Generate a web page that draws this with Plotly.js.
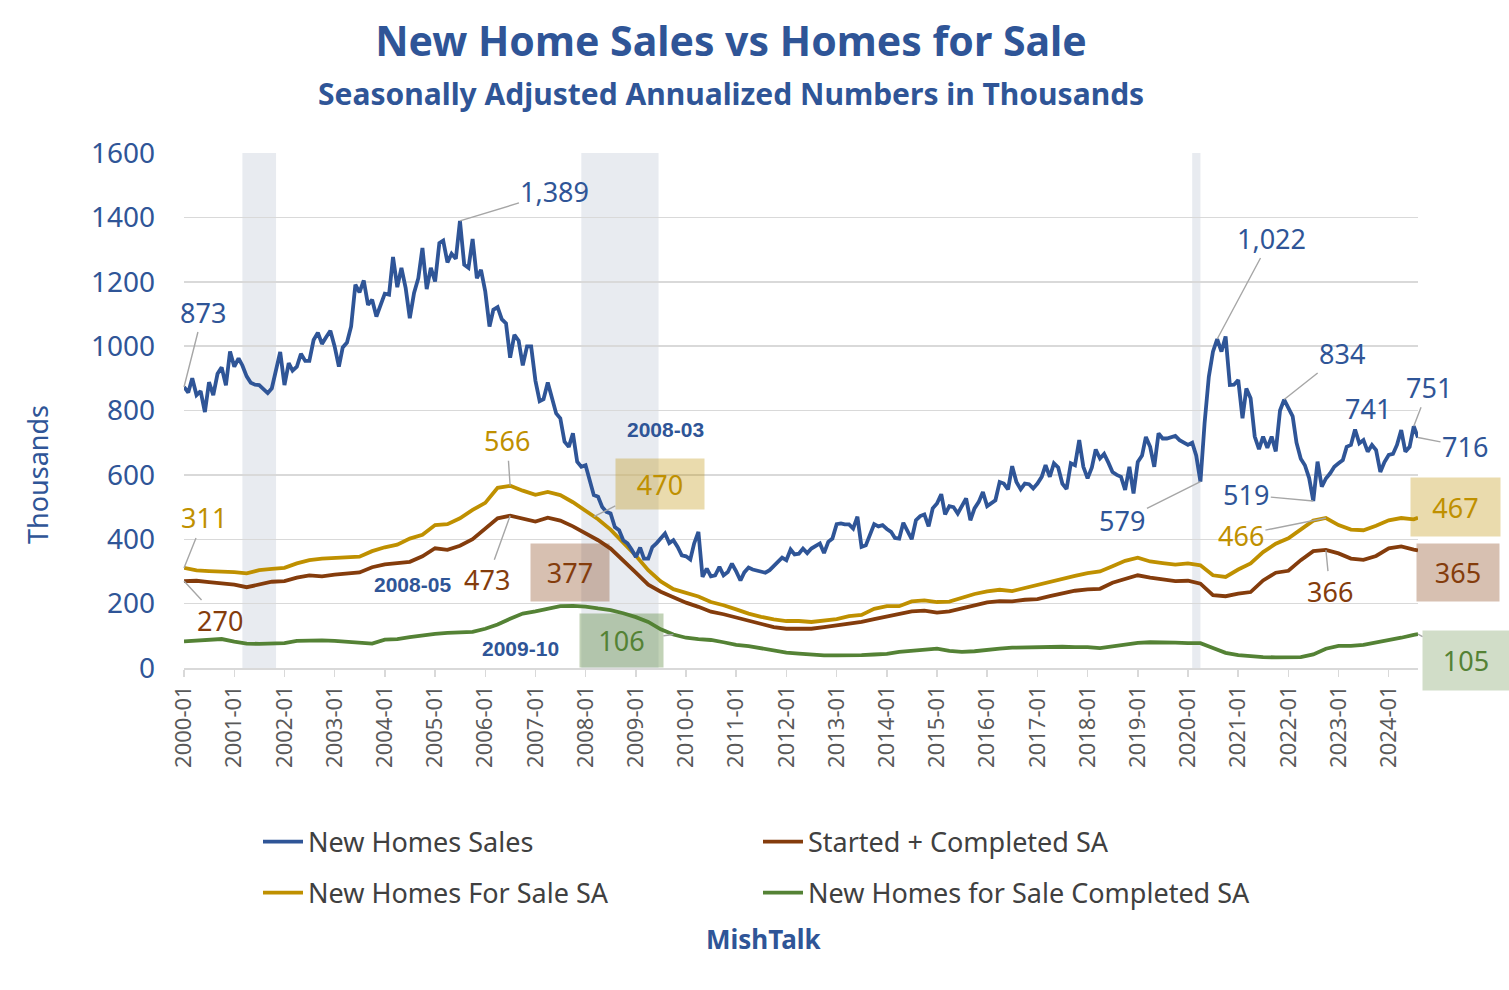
<!DOCTYPE html>
<html>
<head>
<meta charset="utf-8">
<script src="https://cdn.plot.ly/plotly-3.0.1.min.js"></script>
<style>html,body{margin:0;padding:0;background:#fff;}#chart{width:1509px;height:990px;}</style>
</head>
<body>
<div id="chart"></div>
<script>
// ---------- DATA ----------
const startYear = 2000;
const monthCount = 296; // 2000-01 .. 2024-08

// New Home Sales, monthly SAAR (thousands), 2000-01 .. 2024-08
const newHomeSales = [
  873, 856, 900, 848, 860, 795, 888, 848, 914, 934, 878, 983,
  936, 962, 940, 906, 886, 880, 879, 866, 854, 869, 925, 982,
  879, 947, 924, 936, 976, 954, 954, 1019, 1042, 1007, 1028, 1048,
  999, 936, 996, 1011, 1061, 1191, 1167, 1204, 1128, 1144, 1092, 1128,
  1163, 1160, 1277, 1183, 1243, 1180, 1087, 1165, 1211, 1305, 1177, 1243,
  1201, 1320, 1328, 1260, 1287, 1271, 1389, 1253, 1243, 1333, 1211, 1237,
  1170, 1061, 1113, 1121, 1084, 1071, 964, 1035, 1017, 940, 999, 999,
  893, 829, 835, 887, 843, 791, 776, 703, 687, 729, 641, 625,
  630, 584, 537, 532, 500, 485, 480, 438, 428, 397, 387, 368,
  345, 374, 340, 340, 376, 388, 405, 418, 388, 397, 376, 350,
  347, 337, 387, 423, 283, 309, 285, 288, 314, 288, 298, 324,
  300, 272, 297, 312, 306, 302, 297, 296, 304, 316, 329, 343,
  335, 368, 353, 355, 371, 357, 371, 378, 387, 357, 392, 402,
  447, 449, 446, 446, 433, 470, 376, 381, 412, 447, 440, 444,
  432, 423, 404, 402, 451, 428, 400, 459, 472, 477, 440, 496,
  511, 540, 477, 503, 500, 480, 506, 527, 459, 496, 516, 547,
  503, 512, 521, 578, 573, 555, 627, 578, 555, 573, 571, 558,
  573, 594, 630, 594, 636, 623, 573, 556, 636, 630, 708, 625,
  589, 623, 679, 651, 665, 638, 609, 600, 594, 553, 625, 542,
  640, 660, 718, 687, 625, 729, 713, 713, 718, 721, 708, 700,
  693, 700, 660, 579, 760, 905, 983, 1022, 983, 1030, 879, 880,
  895, 776, 868, 838, 719, 680, 719, 684, 719, 673, 800, 834,
  808, 782, 700, 650, 630, 590, 519, 641, 563, 589, 605, 625,
  636, 646, 687, 693, 741, 698, 708, 672, 693, 677, 609, 640,
  662, 665, 693, 739, 672, 687, 751, 716
];

// Smooth series read quarterly (Jan/Apr/Jul/Oct) plus the last month 2024-08
const forSaleSA = [
  311, 303, 301, 300,  298, 294, 304, 308,  311, 325, 335, 340,  343, 343, 346, 363,
  375, 383, 402, 414,  444, 447, 465, 491,  513, 560, 566, 551,  538, 547, 537, 515,
  487, 462, 430, 390,  349, 304, 269, 245,  234, 222, 205, 195,  182, 169, 159, 151,
  146, 146, 143, 148,  152, 161, 165, 184,  192, 192, 207, 210,  205, 206, 218, 230,
  238, 243, 239, 249,  259, 269, 279, 286,  295, 300, 316, 333,  343, 331, 326, 321,
  325, 319, 288, 283,  306, 325, 360, 386,  403, 430, 458, 466,  444, 430, 428, 442,
  459, 466, 462, 467
];
const startedCompletedSA = [
  270, 271, 267, 264,  259, 251, 260, 268,  270, 281, 288, 285,  290, 293, 297, 313,
  322, 326, 330, 347,  372, 367, 380, 400,  432, 465, 473, 465,  455, 467, 458, 440,
  419, 397, 371, 335,  296, 259, 237, 220,  203, 190, 175, 167,  157, 147, 135, 127,
  122, 122, 122, 127,  132, 137, 143, 152,  160, 168, 176, 178,  172, 176, 186, 195,
  204, 208, 207, 212,  214, 223, 232, 240,  244, 246, 265, 277,  288, 281, 276, 270,
  271, 262, 226, 223,  231, 236, 272, 296,  302, 335, 363, 367,  356, 340, 336, 348,
  372, 378, 368, 365
];
const completedForSaleSA = [
  83, 86, 88, 90,  82, 76, 75, 76,  77, 84, 86, 86,  84, 82, 80, 76,
  88, 90, 96, 102,  106, 109, 111, 112,  122, 135, 153, 169,  176, 185, 192, 193,
  191, 185, 180, 170,  158, 143, 120, 104,  94, 90, 87, 80,  72, 68, 61, 55,
  48, 45, 41, 39,  39, 39, 40, 42,  44, 50, 54, 58,  60, 53, 50, 52,
  57, 60, 63, 64,  65, 66, 66, 65,  65, 62, 68, 74,  78, 80, 80, 79,
  77, 77, 62, 47,  40, 36, 34, 33,  33, 34, 42, 60,  69, 69, 72, 79,
  88, 94, 103, 105
];

const seriesNames = ["New Homes Sales", "Started + Completed SA", "New Homes For Sale SA", "New Homes for Sale Completed SA"];
const recessions = [["2001-03-01", "2001-11-01"], ["2007-12-01", "2009-06-15"], ["2020-02-01", "2020-04-01"]];
const tickYears = [];
for (let y = 2000; y <= 2024; y++) tickYears.push(y + "-01-01");

// ---------- DATES ----------
function monthStr(i) {
  const y = startYear + Math.floor(i / 12);
  const m = (i % 12) + 1;
  return y + "-" + (m < 10 ? "0" + m : m) + "-01";
}
const months = [];
for (let i = 0; i < monthCount; i++) months.push(monthStr(i));
const qIdx = [];
for (let i = 0; i < monthCount - 1; i += 3) qIdx.push(i);
qIdx.push(monthCount - 1);
const qDates = qIdx.map(monthStr);

// ---------- STYLE ----------
const BLUE = "#2F5597", GOLD = "#BF9000", BROWN = "#843C0C", GREEN = "#548235";
const FONT = "Noto Sans, Liberation Sans, sans-serif";
const L = 184, R = 1418, T = 153, B = 668;
const px = (X) => (X - L) / (R - L);
const py = (Y) => (B - Y) / (B - T);

const traces = [
  {x: qDates, y: forSaleSA, name: seriesNames[2], type: "scatter", mode: "lines",
   line: {color: GOLD, width: 3.8}, legend: "legend2", legendrank: 1},
  {x: qDates, y: startedCompletedSA, name: seriesNames[1], type: "scatter", mode: "lines",
   line: {color: BROWN, width: 3.8}, legend: "legend", legendrank: 2},
  {x: qDates, y: completedForSaleSA, name: seriesNames[3], type: "scatter", mode: "lines",
   line: {color: GREEN, width: 3.8}, legend: "legend2", legendrank: 2},
  {x: months, y: newHomeSales, name: seriesNames[0], type: "scatter", mode: "lines",
   line: {color: BLUE, width: 3.8}, legend: "legend", legendrank: 1}
];

// ---------- ANNOTATIONS ----------
const lbl = (text, color, idx, val, ax, ay, box) => {
  const a = {
    x: months[idx], y: val, xref: "x", yref: "y", text: text,
    showarrow: true, arrowhead: 0, arrowwidth: 1.4, arrowcolor: "#A6A6A6",
    ax: ax, ay: ay, standoff: 0,
    font: {family: FONT, size: 27, color: color}
  };
  if (box) { a.bgcolor = box.bg; a.width = box.w; a.height = box.h; }
  return a;
};
const noArrow = (text, X, Y, size, color, bold, family) => ({
  x: px(X), y: py(Y), xref: "paper", yref: "paper", showarrow: false,
  text: bold ? "<b>" + text + "</b>" : text,
  font: {family: family || FONT, size: size, color: color},
  xanchor: "center", yanchor: "middle"
});
const m = (y, mo) => (y - startYear) * 12 + (mo - 1);
const ARIAL = "Liberation Sans, Arial, sans-serif";

const annotations = [
  // blue values
  lbl("873", BLUE, m(2000,1), 873, 19, -75),
  lbl("1,389", BLUE, m(2005,7), 1389, 95, -29),
  lbl("1,022", BLUE, m(2020,8), 1022, 54, -101),
  lbl("834", BLUE, m(2021,12), 834, 58, -46),
  lbl("751", BLUE, m(2024,7), 751, 15, -39),
  lbl("716", BLUE, m(2024,8), 716, 47, 9),
  lbl("579", BLUE, m(2020,4), 579, -78, 39),
  lbl("519", BLUE, m(2022,7), 519, -67, -6),
  noArrow("741", 1368, 408, 27, BLUE, false),
  // gold / brown / green
  lbl("566", GOLD, m(2006,7), 566, -3, -45),
  lbl("473", BROWN, m(2006,7), 473, -23, 64),
  lbl("311", GOLD, m(2000,1), 311, 20, -50),
  lbl("270", BROWN, m(2000,1), 270, 36, 39),
  lbl("470", GOLD, m(2008,3), 470, 66, -33, {bg: "rgba(191,144,0,0.32)", w: 86, h: 48}),
  lbl("377", BROWN, m(2008,5), 380, -32, 27, {bg: "rgba(132,60,12,0.32)", w: 76, h: 55}),
  lbl("106", GREEN, m(2009,10), 104, -52, 6, {bg: "rgba(84,130,53,0.36)", w: 81, h: 51}),
  lbl("466", GOLD, m(2022,10), 466, -85, 17),
  lbl("366", BROWN, m(2022,10), 366, 4, 41),
  lbl("467", GOLD, m(2024,8), 467, 37, -11, {bg: "rgba(191,144,0,0.32)", w: 87, h: 56}),
  lbl("365", BROWN, m(2024,8), 365, 40, 22, {bg: "rgba(132,60,12,0.32)", w: 80, h: 55}),
  lbl("105", GREEN, m(2024,8), 105, 48, 26, {bg: "rgba(84,130,53,0.27)", w: 84, h: 57}),
  // free texts
  noArrow("2008-05", 412, 584, 21, BLUE, true, ARIAL),
  noArrow("2008-03", 665, 429, 21, BLUE, true, ARIAL),
  noArrow("2009-10", 520, 648, 21, BLUE, true, ARIAL),
  noArrow("Seasonally Adjusted Annualized Numbers in Thousands", 731, 94, 30, BLUE, true),
  noArrow("MishTalk", 763, 939, 26, BLUE, true),
  Object.assign(noArrow("Thousands", 37, 475, 27, BLUE, false), {textangle: -90})
];

const shapes = recessions.map(r => ({
  type: "rect", xref: "x", yref: "paper", x0: r[0], x1: r[1], y0: 0, y1: 1,
  fillcolor: "#E8EBF0", line: {width: 0}, layer: "below"
}));

const legendBase = {
  orientation: "h", xanchor: "left", yanchor: "middle", x: px(258),
  entrywidth: 445, entrywidthmode: "pixels", itemwidth: 40,
  font: {family: FONT, size: 27, color: "#404040"}, bgcolor: "rgba(0,0,0,0)",
  traceorder: "normal"
};

const layout = {
  width: 1509, height: 990,
  margin: {l: L, r: 1509 - R, t: T, b: 990 - B},
  paper_bgcolor: "#ffffff", plot_bgcolor: "#ffffff",
  title: {text: "<b>New Home Sales vs Homes for Sale</b>", xref: "container", yref: "container",
          x: 731 / 1509, y: 1 - 42 / 990, xanchor: "center", yanchor: "middle",
          font: {family: FONT, size: 41, color: BLUE}},
  xaxis: {type: "date", range: ["2000-01-01", "2024-08-01"], tickmode: "array", tickvals: tickYears,
          tickformat: "%Y-%m", tickangle: -90, ticks: "outside", ticklen: 7, tickcolor: "#D9D9D9",
          tickwidth: 1.5, showline: true, linecolor: "#D9D9D9", linewidth: 1.5, showgrid: false,
          zeroline: false, tickfont: {family: FONT, size: 22, color: "#595959"}, fixedrange: true},
  yaxis: {range: [0, 1600], dtick: 200, tick0: 0, showgrid: true, gridcolor: "#D9D9D9", gridwidth: 1.5,
          zeroline: false, showline: false, ticks: "", ticklabelstandoff: 28,
          tickfont: {family: FONT, size: 28, color: BLUE}, fixedrange: true},
  showlegend: true,
  legend: Object.assign({}, legendBase, {y: py(842)}),
  legend2: Object.assign({}, legendBase, {y: py(893)}),
  annotations: annotations,
  shapes: shapes
};

Plotly.newPlot("chart", traces, layout, {displayModeBar: false, staticPlot: true});
</script>
</body>
</html>
